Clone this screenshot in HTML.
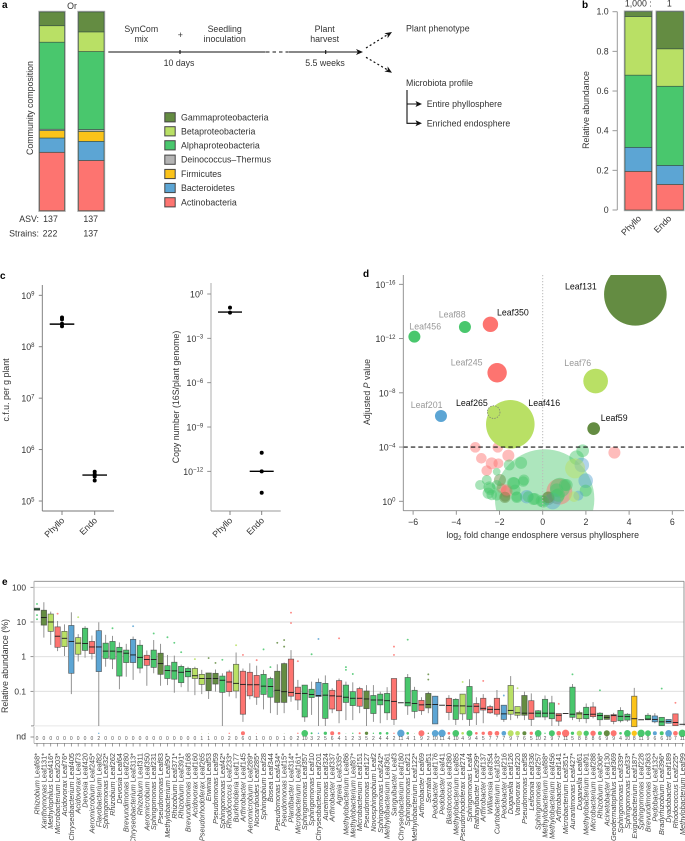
<!DOCTYPE html>
<html>
<head>
<meta charset="utf-8">
<title>SynCom figure</title>
<style>
html,body{margin:0;padding:0;background:#fff;width:685px;height:841px;overflow:hidden}
svg{display:block}
text{font-family:"Liberation Sans",Arial,sans-serif}
.t{font-size:8.8px;fill:#333}
.l{font-size:10px;font-weight:bold;fill:#000}
</style>
</head>
<body>
<svg id="fig" xmlns="http://www.w3.org/2000/svg" width="685" height="841" viewBox="0 0 685 841">
<rect x="0" y="0" width="685" height="841" fill="#fff"/>

<text class="l" x="2" y="8">a</text>
<text class="l" x="582" y="8">b</text>
<text class="l" x="0" y="279">c</text>
<text class="l" x="363" y="277">d</text>
<text class="l" x="2" y="585">e</text>

<text class="t" x="72" y="9" text-anchor="middle">Or</text>
<text class="t" transform="translate(33,108) rotate(-90)" text-anchor="middle">Community composition</text>
<text class="t" x="39" y="222" text-anchor="end">ASV:</text>
<text class="t" x="50.5" y="222" text-anchor="middle">137</text>
<text class="t" x="90.7" y="222" text-anchor="middle">137</text>
<text class="t" x="39" y="236.5" text-anchor="end">Strains:</text>
<text class="t" x="50" y="236.5" text-anchor="middle">222</text>
<text class="t" x="90.7" y="236.5" text-anchor="middle">137</text>

<g>
<text class="t" x="141.3" y="32" text-anchor="middle">SynCom</text>
<text class="t" x="141.3" y="42" text-anchor="middle">mix</text>
<text class="t" x="180.3" y="38" text-anchor="middle">+</text>
<text class="t" x="224.7" y="32" text-anchor="middle">Seedling</text>
<text class="t" x="224.7" y="42" text-anchor="middle">inoculation</text>
<text class="t" x="324.7" y="32" text-anchor="middle">Plant</text>
<text class="t" x="324.7" y="42" text-anchor="middle">harvest</text>
<text class="t" x="179" y="66" text-anchor="middle">10 days</text>
<text class="t" x="325" y="66" text-anchor="middle">5.5 weeks</text>
<line x1="108.3" y1="52" x2="265.7" y2="52" stroke="#111" stroke-width="1.1"/>
<line x1="266" y1="52" x2="288" y2="52" stroke="#111" stroke-width="1.1" stroke-dasharray="3.5 3"/>
<line x1="288.3" y1="52" x2="359" y2="52" stroke="#111" stroke-width="1.1"/>
<line x1="180" y1="50" x2="180" y2="54" stroke="#111" stroke-width="1.1"/>
<line x1="325.7" y1="50" x2="325.7" y2="54" stroke="#111" stroke-width="1.1"/>
<polygon points="363,52 356,49 358,52 356,55" fill="#111"/>
<line x1="366" y1="48" x2="387" y2="35" stroke="#111" stroke-width="1.2" stroke-dasharray="2 2.4"/>
<polygon points="392,32 387.6,38.3 387.7,34.7 384.4,33.2" fill="#111"/>
<line x1="366" y1="57.3" x2="387" y2="69.6" stroke="#111" stroke-width="1.2" stroke-dasharray="2 2.4"/>
<polygon points="392,72.7 384.4,71.5 387.7,70 387.6,66.4" fill="#111"/>
<text class="t" x="406" y="31.3">Plant phenotype</text>
<text class="t" x="406" y="86">Microbiota profile</text>
<path d="M407 90V123.3H418M407 104H418" fill="none" stroke="#111" stroke-width="1.1"/>
<polygon points="422,104 415.5,101 417,104 415.5,107" fill="#111"/>
<polygon points="422,123.3 415.5,120.3 417,123.3 415.5,126.3" fill="#111"/>
<text class="t" x="426.7" y="107">Entire phyllosphere</text>
<text class="t" x="426.7" y="126.3">Enriched endosphere</text>
</g>

<text class="t" transform="translate(589,110) rotate(-90)" text-anchor="middle">Relative abundance</text>
<text class="t" x="638.3" y="6.5" text-anchor="middle">1,000 :</text>
<text class="t" x="669.3" y="6.5" text-anchor="middle">1</text>

<text class="t" transform="translate(9,390) rotate(-90)" text-anchor="middle">c.f.u. per g plant</text>
<text class="t" transform="translate(179,397) rotate(-90)" text-anchor="middle">Copy number (16S/plant genome)</text>

<text class="t" x="542.7" y="538" text-anchor="middle">log<tspan font-size="6" dy="2">2</tspan><tspan dy="-2"> fold change endosphere versus phyllosphere</tspan></text>
<text class="t" transform="translate(370,392) rotate(-90)" text-anchor="middle">Adjusted <tspan font-style="italic">P</tspan> value</text>

<text class="t" transform="translate(8,666) rotate(-90)" text-anchor="middle">Relative abundance (%)</text>
<text class="t" x="26" y="739.5" text-anchor="end">nd</text>

<defs><clipPath id="volcanoClip"><rect x="403.3" y="275" width="281" height="235.7"/></clipPath></defs>
<g id="charts"></g>
</svg>

<script>
/* ---------- palette ---------- */
const phylumColor = {r:'#fd7470', b:'#5ca5d4', y:'#fbc31a', d:'#b4b4b4', g:'#49c76d', l:'#b9e065', o:'#648c42'};

/* ---------- panel a ---------- */
const compCategories = ['Actinobacteria','Bacteroidetes','Firmicutes','Deinococcus\u2013Thermus','Alphaproteobacteria','Betaproteobacteria','Gammaproteobacteria'];
const compPhyla = ['r','b','y','d','g','l','o'];
const compAsv = [0.294,0.072,0.037,0.007,0.438,0.083,0.069];
const compStrains = [0.253,0.096,0.050,0.010,0.392,0.099,0.100];

/* ---------- panel b ---------- */
const abundPhyla = ['r','b','g','l','o'];
const abundPhyllo = [0.195,0.121,0.364,0.296,0.024];
const abundEndo = [0.129,0.096,0.399,0.189,0.187];
const abundTicks = [0,0.2,0.4,0.6,0.8,1.0];
const abundTickLabels = ['0','0.2','0.4','0.6','0.8','1.0'];

/* ---------- panel c ---------- */
const compartments = ['Phyllo','Endo'];
const cfuPhyllo = [3.7e8,3.4e8,2.8e8,2.5e8];
const cfuEndo = [3.7e5,3.3e5,3.0e5,2.5e5];
const cfuMedians = [2.75e8,3.2e5];
const cfuTickExps = [9,8,7,6,5];
const copyPhyllo = [1.2e-1,5.5e-2];
const copyEndo = [1.8e-11,1e-12,3.6e-14];
const copyMedians = [6e-2,1e-12];
const copyTickExps = [0,-3,-6,-9,-12];

/* ---------- panel d ---------- */
const volcanoNames = ['Leaf131','Leaf350','Leaf88','Leaf456','Leaf245','Leaf76','Leaf201','Leaf416','Leaf265','Leaf59'];
const volcanoFold = [4.29,-2.42,-3.60,-5.94,-2.11,2.45,-4.71,-1.50,-2.27,2.36];
const volcanoSig = [15.26,13.05,12.85,12.14,9.48,8.87,6.29,5.68,6.58,5.36];
const volcanoAbund = [98,5.9,3.6,3.6,9.4,15.2,3.6,59,4.0,4.0];
const volcanoPhyla = ['o','r','g','g','r','l','b','l','l','o'];
const nsFold = [0.09,3.32,-3.12,-2.08,-2.84,-1.59,-2.36,-2.05,-2.59,-1.67,-1.90,0.77,-1.00,1.85,1.57,1.81,1.50,1.99,1.99,-2.90,-2.59,-1.98,-1.33,-0.90,-2.44,-2.36,-2.13,-1.74,-1.20,-0.74,-0.43,-0.05,0.26,0.65,1.11,0.80,1.65,1.45,0.46,-2.47,-2.52,-2.13,-1.75,-1.67,-1.36,-1.28,-0.87,-1.20,-0.67,-0.36,0.03,0.26,0.65,1.03,0.72,-2.13,-1.55];
const nsSig = [0.17,3.59,3.98,3.98,3.17,3.37,2.80,2.80,2.26,0.71,0.96,0.71,2.83,3.73,3.22,2.68,2.43,1.52,0.79,1.20,1.57,1.57,1.33,1.45,0.91,0.47,1.20,0.34,0.34,0.34,0.17,0.02,0.22,0.34,1.20,1.00,0.42,0.34,0.02,1.03,0.59,0.46,0.29,0.83,1.33,0.83,1.57,0.29,0.34,0.17,-0.03,0.29,0.83,1.20,0.46,2.18,2.68];
const nsAbund = [247,3.6,2.8,2.8,2.8,3.6,3.6,2.5,2.8,3.6,2.5,16.9,3.6,4,5.3,5.3,10,5.3,3.6,2.5,2.5,3.6,3.6,2.8,3.6,2.8,2.5,2.5,2.8,4.5,3.6,3.6,4.5,5.3,3.6,10,2.5,2.8,6.9,3.6,3.2,3,3.2,3.2,4,3,3,3.2,3,3.5,3.5,3.5,4.5,3.5,4.5,1.5,3];
const nsPhyla = ['g','r','r','r','r','r','r','r','r','r','r','r','g','g','g','b','l','b','g','g','g','o','g','g','g','g','g','o','g','b','g','g','o','g','g','g','b','l','b','g','g','g','o','r','g','g','g','g','g','g','g','o','g','g','g','g','g'];
const volcanoXTicks = [-6,-4,-2,0,2,4,6];
const volcanoYExps = [16,12,8,4,0];
const volcanoThreshold = 4;

/* ---------- panel e ---------- */
const strainGenus = ['Rhizobium','Xanthomonas','Methylophilus','Microbacterium','Acidovorax','Chryseobacterium','Acidovorax','Devosia','Aeromicrobium','Flavobacterium','Sphingomonas','Rhizobium','Devosia','Brevundimonas','Chryseobacterium','Rhizobium','Aeromicrobium','Sphingomonas','Pseudomonas','Methylobacterium','Rhizobium','Rhizobium','Brevundimonas','Acidovorax','Pseudorhodoferax','Erwinia','Pseudomonas','Sphingomonas','Rhodococcus','Burkholderia','Arthrobacter','Aeromicrobium','Nocardioides','Sphingobium','Bosea','Pseudomonas','Pseudomonas','Plantibacter','Microbacterium','Sphingomonas','Sphingomonas','Chryseobacterium','Aureimonas','Arthrobacter','Agreia','Methylobacterium','Methylobacterium','Microbacterium','Pseudomonas','Novosphingobium','Sphingomonas','Methylobacterium','Sanguibacter','Chryseobacterium','Sphingomonas','Methylobacterium','Arthrobacter','Serratia','Pedobacter','Pedobacter','Blastococcus','Methylobacterium','Pseudorhodoferax','Sphingomonas','Rathayibacter','Arthrobacter','Williamsia','Curtobacterium','Pedobacter','Duganella','Variovorax','Pseudomonas','Leifsonia','Sphingomonas','Methylobacterium','Methylobacterium','Arthrobacter','Microbacterium','Aurantimonas','Duganella','Methylobacterium','Microbacterium','Rhizobium','Acinetobacter','Geodermatophilus','Sphingomonas','Sphingomonas','Exiguobacterium','Sphingomonas','Brevundimonas','Pedobacter','Bradyrhizobium','Dyadobacter','Rhodococcus','Methylobacterium'];
const strainLeaf = ['Leaf68*','Leaf131*','Leaf416*','Leaf203*','Leaf76*','Leaf405','Leaf73','Leaf420','Leaf245*','Leaf82','Leaf32*','Leaf262','Leaf64','Leaf280','Leaf313*','Leaf311','Leaf350','Leaf231','Leaf83','Leaf90*','Leaf371*','Leaf391*','Leaf168','Leaf160','Leaf265','Leaf53','Leaf59','Leaf42*','Leaf233*','Leaf177','Leaf145','Leaf289*','Leaf285*','Leaf28','Leaf344','Leaf434*','Leaf15*','Leaf314*','Leaf161*','Leaf357','Leaf10','Leaf201','Leaf324','Leaf337','Leaf335*','Leaf86','Leaf87*','Leaf151','Leaf127','Leaf2','Leaf242*','Leaf361','Leaf3','Leaf180','Leaf21','Leaf122*','Leaf69','Leaf51','Leaf176','Leaf41','Leaf380','Leaf85','Leaf274','Leaf4','Leaf299*','Leaf137','Leaf354','Leaf183*','Leaf216','Leaf126','Leaf220','Leaf58','Leaf336','Leaf257','Leaf88*','Leaf456','Leaf141','Leaf351*','Leaf427*','Leaf61','Leaf91','Leaf288','Leaf306*','Leaf130','Leaf369','Leaf339*','Leaf33*','Leaf187*','Leaf228','Leaf363','Leaf132*','Leaf396*','Leaf189','Leaf225*','Leaf99'];
const strainPhyla = ['g','o','l','r','l','b','l','g','r','b','g','g','g','g','b','g','r','g','o','g','g','g','g','l','l','o','o','g','r','l','r','r','r','g','g','o','o','r','r','g','g','b','g','r','r','g','g','r','o','g','g','g','r','b','g','g','r','o','b','b','r','g','l','g','r','r','r','r','b','l','l','o','r','g','g','g','r','r','g','l','g','r','g','o','r','g','g','y','g','g','b','g','b','r','g'];
const whiskerHigh = [1.37,1.57,1.30,1.03,0.93,1.28,0.65,0.88,0.61,0.99,0.63,0.60,0.41,0.37,0.58,0.48,0.18,0.48,0.37,0.05,0.03,-0.23,-0.29,-0.29,-0.38,-0.47,-0.37,-0.48,-0.38,0.12,-0.34,-0.19,-0.26,-0.38,-0.58,-0.22,-0.17,0.19,-0.67,-0.82,-0.72,-0.63,-0.54,-0.91,-0.63,-0.72,-0.74,-0.87,-0.82,-0.82,-1.01,-0.88,-0.63,-1.33,-0.50,-0.87,-1.17,-1.01,-1.13,-1.40,-1.11,-1.20,-1.08,-0.65,-1.17,-1.08,-1.39,-0.96,-1.40,-0.56,-1.44,-1.01,-1.06,-1.54,-1.12,-1.13,-1.64,-1.64,-0.79,-1.56,-1.35,-1.31,-1.60,-1.69,-1.62,-1.46,-1.63,-0.90,-1.82,-1.63,-1.63,-1.75,-1.81,-1.65,-1.95];
const quartile3 = [1.40,1.34,1.23,0.86,0.73,0.90,0.55,0.82,0.44,0.75,0.39,0.44,0.27,0.19,0.50,0.33,0.04,0.19,0.10,-0.26,-0.16,-0.28,-0.34,-0.34,-0.51,-0.47,-0.48,-0.56,-0.44,-0.22,-0.42,-0.45,-0.54,-0.51,-0.63,-0.42,-0.20,-0.07,-0.88,-0.82,-0.94,-0.74,-0.77,-0.97,-0.69,-0.82,-1.01,-0.92,-0.99,-1.12,-1.08,-1.06,-0.63,-1.33,-0.60,-0.97,-1.26,-1.06,-1.14,-1.40,-1.20,-1.23,-1.08,-0.86,-1.35,-1.20,-1.44,-1.20,-1.40,-0.83,-1.44,-1.12,-1.27,-1.56,-1.23,-1.33,-1.64,-1.64,-0.88,-1.61,-1.46,-1.45,-1.63,-1.69,-1.67,-1.55,-1.66,-1.14,-1.82,-1.69,-1.71,-1.75,-1.81,-1.65,-1.95];
const medians = [1.37,1.13,1.00,0.59,0.53,0.44,0.39,0.38,0.28,0.28,0.16,0.16,0.14,0.10,0.05,-0.02,-0.08,-0.08,-0.20,-0.40,-0.41,-0.45,-0.43,-0.55,-0.63,-0.63,-0.63,-0.68,-0.73,-0.77,-0.80,-0.81,-0.81,-0.85,-0.86,-0.97,-1.01,-1.03,-1.06,-1.06,-1.09,-1.12,-1.11,-1.13,-1.14,-1.17,-1.20,-1.20,-1.22,-1.25,-1.25,-1.27,-1.29,-1.33,-1.33,-1.35,-1.39,-1.38,-1.38,-1.40,-1.41,-1.42,-1.42,-1.43,-1.43,-1.49,-1.52,-1.52,-1.65,-1.55,-1.62,-1.63,-1.63,-1.63,-1.63,-1.63,-1.69,-1.64,-1.66,-1.65,-1.67,-1.66,-1.70,-1.75,-1.70,-1.72,-1.73,-1.79,-1.82,-1.80,-1.81,-1.88,-1.87,-1.90,-1.95];
const quartile1 = [1.34,0.91,0.73,0.27,0.29,-0.48,0.07,0.18,0.09,-0.43,-0.05,-0.07,-0.56,-0.17,-0.17,-0.33,-0.25,-0.31,-0.51,-0.63,-0.65,-0.75,-0.58,-0.63,-0.80,-0.98,-0.79,-1.03,-1.01,-0.99,-1.66,-1.13,-1.17,-1.09,-1.17,-1.32,-1.32,-1.14,-1.25,-1.74,-1.18,-1.15,-1.78,-1.51,-1.56,-1.32,-1.41,-1.43,-1.50,-1.64,-1.39,-1.62,-1.81,-1.33,-1.42,-1.58,-1.56,-1.48,-1.94,-1.40,-1.61,-1.81,-1.65,-1.81,-1.62,-1.54,-1.62,-1.66,-1.81,-1.66,-1.69,-1.69,-1.81,-1.74,-1.74,-1.79,-1.86,-1.64,-1.75,-1.79,-1.79,-1.73,-1.82,-1.81,-1.87,-1.85,-1.83,-2.02,-1.82,-1.82,-1.88,-1.99,-1.92,-1.99,-1.95];
const whiskerLow = [1.34,0.55,0.34,0.16,0.02,-1.08,-0.14,-0.03,-0.08,-2,-0.29,-0.36,-0.94,-0.58,-0.67,-0.48,-0.84,-0.48,-0.84,-0.82,-1.04,-0.88,-1.01,-1.11,-1.08,-1.22,-1.01,-2,-1.15,-1.20,-1.88,-1.23,-1.39,-1.52,-1.63,-1.68,-1.63,-1.30,-1.54,-1.88,-1.68,-2,-2,-1.63,-1.92,-1.83,-1.83,-1.63,-2,-1.88,-1.92,-1.83,-1.97,-1.33,-1.68,-1.78,-1.68,-1.63,-1.94,-1.40,-1.83,-1.97,-1.83,-2,-1.97,-1.92,-1.65,-1.73,-1.88,-1.83,-1.78,-1.83,-2,-1.74,-1.83,-2,-2,-1.64,-1.83,-1.88,-1.92,-1.78,-2,-1.81,-1.95,-1.90,-1.88,-2.02,-1.82,-1.83,-1.92,-1.99,-1.92,-1.99,-1.95];
const outlierBox = [0,0,0,3,6,11,14,17,19,20,21,23,25,26,27,29,30,32,33,34,35,36,36,37,37,38,40,41,44,45,45,46,52,52,54,57,57,62,65,68,70,76,78,82,91,93];
const outlierLog = [1.52,1.20,1.08,1.24,1.14,0.82,0.88,0.67,0.56,0.40,0.13,-0.07,-0.04,-0.18,-0.09,0.33,0.05,-0.10,0.21,-0.30,0.40,0.48,0.29,1.27,0.97,-0.13,0.07,0.51,0.53,-0.30,-0.38,-0.50,0.29,0.05,0.49,-0.51,-0.66,-0.73,-0.70,-1.12,-0.91,-1.36,-0.51,-0.97,-0.92,-1.33];
const ndCounts = [0,0,0,0,0,0,0,0,0,2,0,0,0,0,0,0,0,0,0,0,0,0,0,0,1,1,0,0,2,0,6,0,1,0,0,0,1,0,2,10,3,2,5,6,4,1,2,3,5,2,4,4,2,11,4,1,9,2,10,11,4,10,4,9,4,5,7,7,7,9,7,6,5,10,2,9,7,11,5,8,8,8,6,9,9,4,10,8,11,9,6,6,10,7,11];
const boxTicks = [2,1,0,-1];
const boxTickLabels = ['100','10','1','0.1'];

/* ---------- helpers ---------- */
const NS = 'http://www.w3.org/2000/svg';
const root = document.getElementById('charts');
function mk(tag, attrs, parent) {
  const e = document.createElementNS(NS, tag);
  for (const k in attrs) e.setAttribute(k, attrs[k]);
  parent.appendChild(e);
  return e;
}
function addText(parent, name, x, y, str, size, anchor, fill, rotate) {
  const a = {x: x, y: y, 'font-size': size, 'text-anchor': anchor, fill: fill};
  if (rotate) { a.transform = 'rotate(' + rotate + ' ' + x + ' ' + y + ')'; }
  const t = mk('text', a, parent);
  
  
  t.textContent = str;
  return t;
}
function addLine(parent, name, x1, y1, x2, y2, stroke, w) {
  const l = mk('line', {x1: x1, y1: y1, x2: x2, y2: y2, stroke: stroke, 'stroke-width': w}, parent);
  
  
  return l;
}
function addRect(parent, name, x, y, w, h, fill, stroke, sw) {
  const r = mk('rect', {x: x, y: y, width: w, height: h, fill: fill, stroke: stroke, 'stroke-width': sw}, parent);
  
  
  return r;
}
function addDot(parent, name, x, y, rad, fill, opacity) {
  const c = mk('circle', {cx: x, cy: y, r: rad, fill: fill, 'fill-opacity': opacity}, parent);
  
  
  return c;
}
function addPowerLabel(parent, name, x, y, exp) {
  const t = addText(parent, name, x, y, '10', 8.8, 'end', '#333');
  const s = mk('tspan', {dy: -3.2, 'font-size': 6}, t);
  
  
  s.textContent = String(exp).replace('-', '\u2212');
  return t;
}

/* ---------- panel a ---------- */
(function () {
  const g = mk('g', {}, root);
  
  
  const yA = v => 210.7 - v * 198.7;
  [[compAsv, 39.5, 25, 'asv'], [compStrains, 78.5, 25.5, 'strains']].forEach(function (b) {
    let cum = 0;
    addRect(g, 'stack-outline-' + b[3], b[1] - 0.6, yA(1) - 0.6, b[2] + 1.2, 198.7 + 1.2, 'none', '#aaa', 1.2);
    b[0].forEach(function (v, i) {
      addRect(g, 'stack-' + b[3] + '-' + compPhyla[i], b[1], yA(cum + v), b[2], v * 198.7, phylumColor[compPhyla[i]], 'rgba(50,75,65,.8)', 0.7);
      cum += v;
    });
  });
  const legendY = [202.3,188,174,159.7,145.3,131.3,117.3];
  compCategories.forEach(function (c, i) {
    addRect(g, 'legend-swatch', 164.8, legendY[i] - 4.6, 10.4, 9.2, phylumColor[compPhyla[i]], '#444', 1);
    addText(g, 'legend-entry', 181, legendY[i] + 3, c, 8.8, 'start', '#333');
  });
})();

/* ---------- panel b ---------- */
(function () {
  const g = mk('g', {}, root);
  
  
  const yB = v => 210 - v * 198.3;
  addLine(g, 'y-axis', 617.3, yB(0), 617.3, yB(1), '#999', 1);
  abundTicks.forEach(function (t, i) {
    addLine(g, 'y-tick', 612.5, yB(t), 617.3, yB(t), '#999', 1);
    addText(g, 'y-tick-label', 608.7, yB(t) + 3, abundTickLabels[i], 8.8, 'end', '#333');
  });
  [[abundPhyllo, 625, 'phyllo', 641.7], [abundEndo, 656.7, 'endo', 672]].forEach(function (b, j) {
    let cum = 0;
    addRect(g, 'stack-outline-' + b[2], b[1] - 0.6, yB(1) - 0.6, 27.8, 199.5, 'none', '#aaa', 1.2);
    b[0].forEach(function (v, i) {
      addRect(g, 'stack-' + b[2] + '-' + abundPhyla[i], b[1], yB(cum + v), 26.6, v * 198.3, phylumColor[abundPhyla[i]], 'rgba(50,75,65,.8)', 0.7);
      cum += v;
    });
    addText(g, 'x-tick-label', b[3], 219, compartments[j], 8.8, 'end', '#333', -45);
  });
})();

/* ---------- panel c ---------- */
(function () {
  const g = mk('g', {}, root);
  
  
  const yC = v => 295.3 + (9 - Math.log10(v)) * 51.43;
  const xC = [62, 94.7];
  addLine(g, 'y-axis', 42.3, 285, 42.3, 511, '#777', 0.9);
  addLine(g, 'x-axis', 42.3, 511, 114, 511, '#777', 0.9);
  cfuTickExps.forEach(function (e) {
    addLine(g, 'y-tick', 38.8, yC(Math.pow(10, e)), 42.3, yC(Math.pow(10, e)), '#777', 0.9);
    addPowerLabel(g, 'y-tick-label', 34.5, yC(Math.pow(10, e)) + 3.5, e);
  });
  compartments.forEach(function (n, i) {
    addLine(g, 'x-tick', xC[i], 511, xC[i], 515, '#777', 0.9);
    addText(g, 'x-tick-label', xC[i] + 3, 521, n, 8.8, 'end', '#333', -45);
    addLine(g, 'median-bar', xC[i] - 12.3, yC(cfuMedians[i]), xC[i] + 12.3, yC(cfuMedians[i]), '#000', 1.4);
  });
  cfuPhyllo.forEach(v => addDot(g, 'phyllo-point', xC[0], yC(v), 2, '#000', 1));
  cfuEndo.forEach(v => addDot(g, 'endo-point', xC[1], yC(v), 2, '#000', 1));

  const g2 = mk('g', {}, root);
  
  
  const yD = v => 294 - Math.log10(v) * 14.78;
  const xD = [230, 261.7];
  addLine(g2, 'y-axis', 211, 283, 211, 511, '#bbb', 1.2);
  addLine(g2, 'x-axis', 211, 511, 280.7, 511, '#999', 0.9);
  copyTickExps.forEach(function (e) {
    addLine(g2, 'y-tick', 207.2, yD(Math.pow(10, e)), 211, yD(Math.pow(10, e)), '#888', 0.9);
    addPowerLabel(g2, 'y-tick-label', 203.2, yD(Math.pow(10, e)) + 3.5, e);
  });
  compartments.forEach(function (n, i) {
    addLine(g2, 'x-tick', xD[i], 511, xD[i], 515, '#777', 0.9);
    addText(g2, 'x-tick-label', xD[i] + 3, 521, n, 8.8, 'end', '#333', -45);
    addLine(g2, 'median-bar', xD[i] - 12, yD(copyMedians[i]), xD[i] + 12, yD(copyMedians[i]), '#000', 1.4);
  });
  copyPhyllo.forEach(v => addDot(g2, 'phyllo-point', xD[0], yD(v), 2, '#000', 1));
  copyEndo.forEach(v => addDot(g2, 'endo-point', xD[1], yD(v), 2, '#000', 1));
})();

/* ---------- panel d ---------- */
(function () {
  const g = mk('g', {}, root);
  
  
  const xV = v => 542.7 + v * 21.6;
  const yV = e => 501.3 - e * 13.56;
  const rV = a => Math.sqrt(a * 10);
  const plot = mk('g', {'clip-path': 'url(#volcanoClip)'}, g);
  
  
  nsFold.forEach(function (x, i) {
    addDot(plot, 'nonsignificant-bubble', xV(x), yV(nsSig[i]), rV(nsAbund[i]), phylumColor[nsPhyla[i]], i === 0 ? 0.45 : 0.48);
  });
  volcanoFold.forEach(function (x, i) {
    const c = addDot(plot, 'bubble-' + volcanoNames[i].toLowerCase(), xV(x), yV(volcanoSig[i]), rV(volcanoAbund[i]), phylumColor[volcanoPhyla[i]], 1);
    if (volcanoNames[i] === 'Leaf265') {
      c.setAttribute('stroke', '#777');
      c.setAttribute('stroke-width', '0.7');
      c.setAttribute('stroke-dasharray', '1.4 1.2');
    }
  });
  const zeroLine = addLine(g, 'zero-fold-line', xV(0), 275, xV(0), 510.7, '#bbb', 1);
  zeroLine.setAttribute('stroke-dasharray', '1.2 1.8');
  const thr = addLine(g, 'significance-threshold', 403.3, yV(volcanoThreshold), 684, yV(volcanoThreshold), '#111', 1.1);
  thr.setAttribute('stroke-dasharray', '4.5 3');
  addLine(g, 'y-axis', 403.3, 275, 403.3, 510.7, '#888', 0.9);
  addLine(g, 'x-axis', 403.3, 510.7, 684, 510.7, '#888', 0.9);
  volcanoXTicks.forEach(function (t) {
    addLine(g, 'x-tick', xV(t), 510.7, xV(t), 514.7, '#888', 0.9);
    addText(g, 'x-tick-label', xV(t), 525, String(t).replace('-', '\u2212'), 8.8, 'middle', '#333');
  });
  volcanoYExps.forEach(function (e) {
    addLine(g, 'y-tick', 399, yV(e), 403.3, yV(e), '#888', 0.9);
    addPowerLabel(g, 'y-tick-label', 395.5, yV(e) + 3.5, e === 0 ? 0 : -e);
  });
  const labelX = [565,497,438.7,409.3,450.7,564.3,410.7,528.3,456,600.7];
  const labelY = [289.3,315.7,317.3,329.3,365.7,366,408,406,406,421];
  const labelFill = ['#111','#111','#999','#999','#999','#999','#999','#111','#111','#111'];
  volcanoNames.forEach(function (n, i) {
    addText(g, 'bubble-label', labelX[i], labelY[i], n, 8.8, 'start', labelFill[i]);
  });
})();

/* ---------- panel e ---------- */
(function () {
  const g = mk('g', {}, root);
  
  
  const xB = i => 37 + i * 6.865;
  const yB = l => 570 + (260 - 104 * l) / 3;
  boxTicks.forEach(function (t, i) {
    addLine(g, 'gridline', 34, yB(t), 684, yB(t), '#dcdcdc', 0.9);
    addLine(g, 'y-tick', 30.5, yB(t), 34, yB(t), '#777', 0.8);
    addText(g, 'y-tick-label', 26, yB(t) + 3, boxTickLabels[i], 8.4, 'end', '#333');
  });
  addLine(g, 'top-border', 34, 581.3, 684, 581.3, '#888', 0.9);
  addLine(g, 'right-border', 684, 581.3, 684, 725.7, '#888', 0.9);
  addLine(g, 'y-axis', 34, 581.3, 34, 725.7, '#c4c4c4', 1.3);
  addLine(g, 'axis-break-band', 34, 725.9, 684, 725.9, '#e6e6e6', 1);
  addLine(g, 'nd-axis', 34, 727, 34, 743.3, '#aaa', 0.8);
  addLine(g, 'nd-tick', 30.5, 737, 34, 737, '#777', 0.8);
  addLine(g, 'axis-break-tick', 31, 725.9, 34, 725.9, '#777', 0.8);
  addLine(g, 'x-axis', 34, 743.3, xB(94) + 2, 743.3, '#777', 0.7);

  medians.forEach(function (m, i) {
    const x = xB(i);
    const col = phylumColor[strainPhyla[i]];
    addLine(g, 'whisker', x, yB(whiskerHigh[i]), x, yB(whiskerLow[i]), '#888', 0.9);
    if (quartile3[i] > quartile1[i]) {
      addRect(g, 'box', x - 2.7, yB(quartile3[i]), 5.4, yB(quartile1[i]) - yB(quartile3[i]), col, 'rgba(60,60,60,.75)', 0.7);
    }
    addLine(g, 'median', x - 2.9, yB(m), x + 2.9, yB(m), '#1a1a1a', 0.9);
    addLine(g, 'x-tick', x, 743.3, x, 746.5, '#777', 0.7);
    const n = ndCounts[i];
    if (n > 0) {
      addDot(g, 'nd-dot', x, 733.3, n / 3, col, 1);
    }
    addText(g, 'nd-count', x, 739.8, String(n), 5, 'middle', '#555');
    const lab = addText(g, 'strain-label', x + 2.5, 753, '', 7.3, 'end', '#444', -90);
    const gs = mk('tspan', {'font-style': 'italic'}, lab);
    
    
    gs.textContent = strainGenus[i] + ' ';
    const ls = mk('tspan', {}, lab);
    
    
    ls.textContent = strainLeaf[i];
  });
  outlierBox.forEach(function (b, i) {
    addDot(g, 'outlier', xB(b), yB(outlierLog[i]), 0.95, phylumColor[strainPhyla[b]], 0.85);
  });
})();
</script>
</body>
</html>
